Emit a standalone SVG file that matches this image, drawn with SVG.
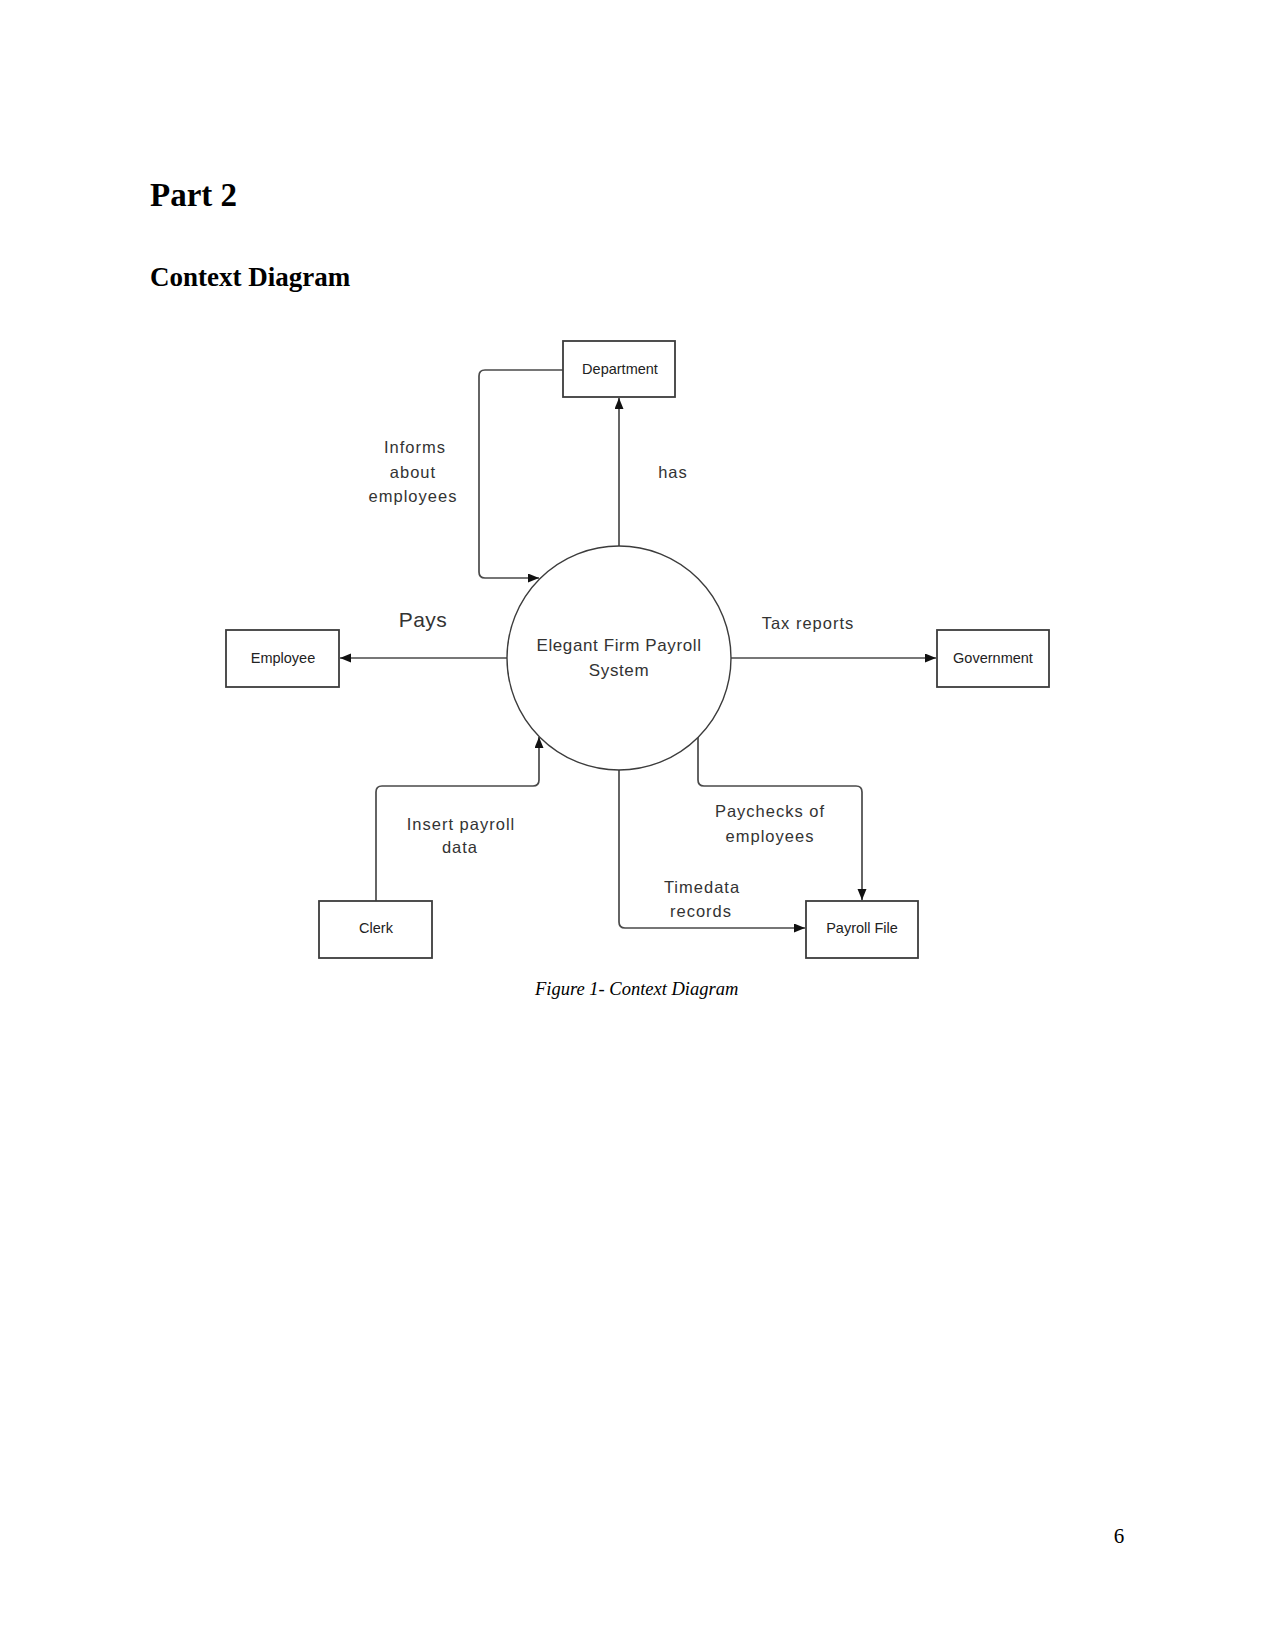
<svg xmlns="http://www.w3.org/2000/svg" width="1275" height="1651" viewBox="0 0 1275 1651">
<style>
.page{font-family:"Liberation Serif","Times New Roman",serif;fill:#000}
.box{fill:#fff;stroke:#3c3c3c;stroke-width:1.8}
.proc{fill:#fff;stroke:#3c3c3c;stroke-width:1.4}
.lbl{font-family:"Liberation Sans",Arial,sans-serif;font-size:14.5px;fill:#222;text-anchor:middle}
.edge{font-family:"Liberation Sans",Arial,sans-serif;font-size:16.5px;fill:#333;text-anchor:middle;letter-spacing:1px}
.conn{fill:none;stroke:#4a4a4a;stroke-width:1.7}
</style>
<defs>
<marker id="arr" markerUnits="userSpaceOnUse" markerWidth="12" markerHeight="10" refX="11" refY="4.5" orient="auto">
<path d="M0,0 L11,4.5 L0,9 z" fill="#111"/>
</marker>
</defs>
<rect width="1275" height="1651" fill="#fff"/>
<text class="page" x="150" y="206" font-size="33" font-weight="bold">Part 2</text>
<text class="page" x="150" y="286" font-size="27" font-weight="bold">Context Diagram</text>

<g id="connectors">
<path class="conn" d="M619,546 V398" marker-end="url(#arr)"/>
<path class="conn" d="M563,370 H485 Q479,370 479,376 V572 Q479,578 485,578 H539" marker-end="url(#arr)"/>
<path class="conn" d="M507,658 H340" marker-end="url(#arr)"/>
<path class="conn" d="M731,658 H936" marker-end="url(#arr)"/>
<path class="conn" d="M376,901 V792 Q376,786 382,786 H533 Q539,786 539,780 V737" marker-end="url(#arr)"/>
<path class="conn" d="M698,737 V780 Q698,786 704,786 H856 Q862,786 862,792 V900" marker-end="url(#arr)"/>
<path class="conn" d="M619,770 V922 Q619,928 625,928 H805" marker-end="url(#arr)"/>
</g>

<g id="edge-labels">
<text class="edge" x="415" y="453">Informs</text>
<text class="edge" x="413" y="478">about</text>
<text class="edge" x="413" y="502">employees</text>
<text class="edge" x="673" y="478">has</text>
<text class="edge" x="423" y="627" style="font-size:21px;letter-spacing:0.5px">Pays</text>
<text class="edge" x="808" y="629">Tax reports</text>
<text class="edge" x="461" y="830">Insert payroll</text>
<text class="edge" x="460" y="853">data</text>
<text class="edge" x="770" y="817">Paychecks of</text>
<text class="edge" x="770" y="842">employees</text>
<text class="edge" x="702" y="893">Timedata</text>
<text class="edge" x="701" y="917">records</text>
</g>

<g id="process">
<circle class="proc" cx="619" cy="658" r="112"/>
<text class="edge" x="619" y="651" style="font-size:17px;letter-spacing:0.6px">Elegant Firm Payroll</text>
<text class="edge" x="619" y="676" style="font-size:17px;letter-spacing:0.6px">System</text>
</g>
<g id="department">
<rect class="box" x="563" y="341" width="112" height="56"/>
<text class="lbl" x="620" y="374">Department</text>
</g>
<g id="employee">
<rect class="box" x="226" y="630" width="113" height="57"/>
<text class="lbl" x="283" y="663">Employee</text>
</g>
<g id="government">
<rect class="box" x="937" y="630" width="112" height="57"/>
<text class="lbl" x="993" y="663">Government</text>
</g>
<g id="clerk">
<rect class="box" x="319" y="901" width="113" height="57"/>
<text class="lbl" x="376" y="933">Clerk</text>
</g>
<g id="payroll-file">
<rect class="box" x="806" y="901" width="112" height="57"/>
<text class="lbl" x="862" y="933">Payroll File</text>
</g>

<text class="page" x="535" y="995" font-size="18.5" font-style="italic">Figure 1- Context Diagram</text>
<text class="page" x="1119" y="1543" font-size="21" text-anchor="middle">6</text>
</svg>
